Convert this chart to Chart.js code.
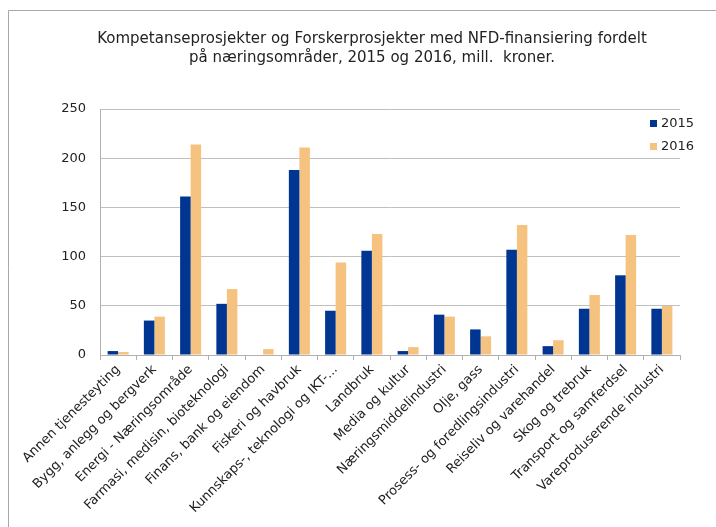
<!DOCTYPE html>
<html>
<head>
<meta charset="utf-8">
<script src="https://cdn.jsdelivr.net/npm/chart.js@4/dist/chart.umd.min.js"></script>
<style>
  body { margin: 0; background: #fff; }
  #wrap { width: 716px; height: 527px; }
</style>
</head>
<body>
<div id="wrap"><canvas id="myChart" width="716" height="527"></canvas></div>
<script>
// categories (næringsområder)
const categories = [
  "Annen tjenesteyting",
  "Bygg, anlegg og bergverk",
  "Energi - Næringsområde",
  "Farmasi, medisin, bioteknologi",
  "Finans, bank og eiendom",
  "Fiskeri og havbruk",
  "Kunnskaps-, teknologi og IKT-...",
  "Landbruk",
  "Media og kultur",
  "Næringsmiddelindustri",
  "Olje, gass",
  "Prosess- og foredlingsindustri",
  "Reiseliv og varehandel",
  "Skog og trebruk",
  "Transport og samferdsel",
  "Vareproduserende industri"
];

// mill. kroner
const values2015 = [4, 35, 161, 52, 0, 188, 45, 106, 4, 41, 26, 107, 9, 47, 81, 47];
const values2016 = [3, 39, 214, 67, 6, 211, 94, 123, 8, 39, 19, 132, 15, 61, 122, 50];

const seriesNames = ["2015", "2016"];
const barColors = ["#003591", "#f5c37f"];
const titleLines = [
  "Kompetanseprosjekter og Forskerprosjekter med NFD-finansiering fordelt",
  "på næringsområder, 2015 og 2016, mill.  kroner."
];

const FONT = "'DejaVu Sans', Verdana, sans-serif";

// title, frame lines and legend drawn by hand
const extras = {
  id: "extras",
  afterDraw(chart) {
    const ctx = chart.ctx;
    ctx.save();
    // frame (top + left edge)
    ctx.strokeStyle = "#a8a8a8";
    ctx.lineWidth = 1;
    ctx.beginPath();
    ctx.moveTo(8.5, 527);
    ctx.lineTo(8.5, 10.5);
    ctx.lineTo(716, 10.5);
    ctx.stroke();

    // title
    ctx.fillStyle = "#222";
    ctx.font = "15px " + FONT;
    ctx.textAlign = "center";
    ctx.textBaseline = "middle";
    ctx.fillText(titleLines[0], 372, 39);
    ctx.fillText(titleLines[1], 372, 58);

    // legend
    ctx.font = "13px " + FONT;
    ctx.textAlign = "left";
    chart.data.datasets.forEach((ds, i) => {
      const y = 123.5 + i * 23;
      ctx.fillStyle = ds.backgroundColor;
      ctx.fillRect(650, y - 3.5, 7, 7);
      ctx.fillStyle = "#222";
      ctx.fillText(ds.label, 661, y);
    });
    ctx.restore();
  }
};

const myChart = new Chart("myChart", {
  type: "bar",
  data: {
    labels: categories,
    datasets: [
      { label: seriesNames[0], data: values2015, backgroundColor: barColors[0] },
      { label: seriesNames[1], data: values2016, backgroundColor: barColors[1] }
    ]
  },
  options: {
    responsive: false,
    animation: false,
    layout: { padding: { left: 0, right: 36, top: 109, bottom: 0 } },
    datasets: {
      bar: { categoryPercentage: 0.58, barPercentage: 1.0 }
    },
    plugins: {
      legend: { display: false },
      title: { display: false },
      tooltip: { enabled: false }
    },
    scales: {
      x: {
        afterFit(scale) {
          scale.height = 172;
          scale.paddingLeft = 0;
          scale.paddingRight = 0;
        },
        grid: {
          offset: true,
          drawOnChartArea: false,
          drawTicks: true,
          tickLength: 5,
          color: "#b0b0b0"
        },
        border: { color: "#b0b0b0" },
        ticks: {
          maxRotation: 45,
          minRotation: 45,
          autoSkip: false,
          padding: 2,
          color: "#222",
          font: { family: FONT, size: 13 }
        }
      },
      y: {
        min: 0,
        max: 250,
        afterFit(scale) { scale.width = 100; },
        grid: { color: "#c0c0c0", drawTicks: false },
        border: { color: "#b0b0b0" },
        ticks: {
          stepSize: 50,
          padding: 14,
          color: "#222",
          font: { family: FONT, size: 13 }
        }
      }
    }
  },
  plugins: [extras]
});
</script>
</body>
</html>
